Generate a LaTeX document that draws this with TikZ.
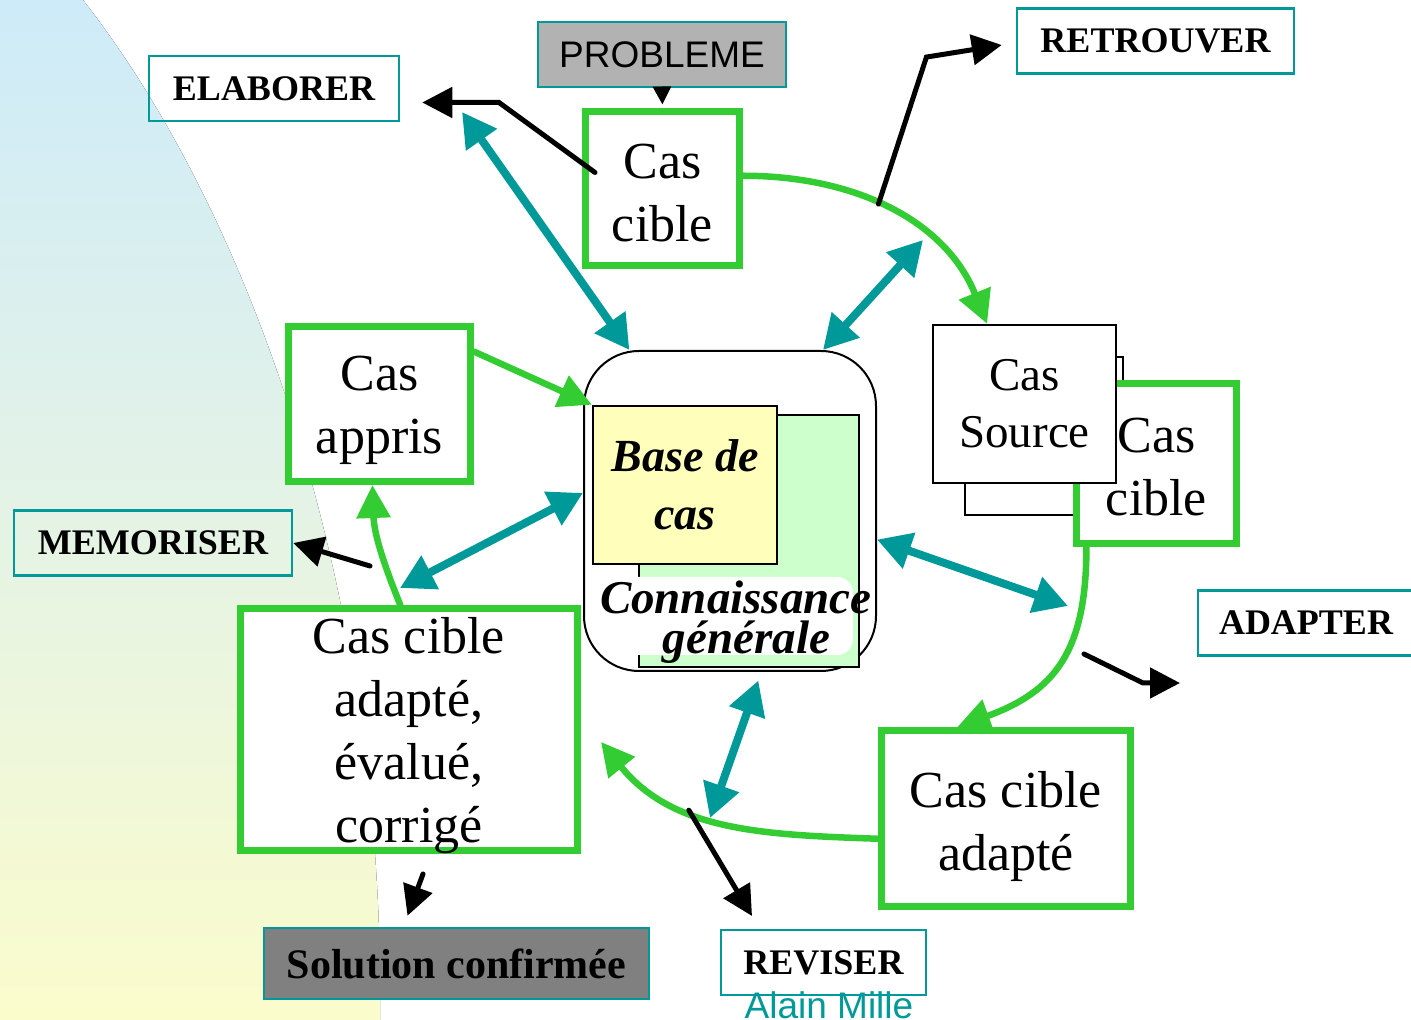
\documentclass[tikz,border=0pt]{standalone}
\usepackage{fontspec}
\setmainfont{Liberation Serif}
\newfontfamily\arialfont{Liberation Sans}
\usepackage{tikz}
\usetikzlibrary{arrows.meta}

\definecolor{tealline}{RGB}{0,153,153}
\definecolor{greenline}{RGB}{51,204,51}
\definecolor{probgray}{RGB}{178,178,178}
\definecolor{solgray}{RGB}{128,128,128}
\definecolor{baseyellow}{RGB}{255,255,187}
\definecolor{knowgreen}{RGB}{204,255,204}
\definecolor{bgtop}{RGB}{206,235,249}
\definecolor{bgmid}{RGB}{228,243,230}
\definecolor{bgbot}{RGB}{251,252,204}

\newcommand{\casfont}{\fontsize{52}{63}\selectfont}
\newcommand{\labfont}{\bfseries\fontsize{36}{40}\selectfont}

\begin{document}
\begin{tikzpicture}[x=1pt,y=1pt,
  casbox/.style={draw=greenline,line width=7pt,fill=white,inner sep=0pt},
  castext/.style={inner sep=0pt,align=center,font=\casfont},
  labelbox/.style={draw=tealline,line width=2.5pt,inner sep=0pt,minimum height=65pt,font=\labfont},
  tealarrow/.style={draw=tealline,line width=8pt,{Triangle[length=34pt,width=36pt]}-{Triangle[length=34pt,width=36pt]}},
  greenarrow/.style={draw=greenline,line width=6.5pt,line cap=round,-{Triangle[length=33pt,width=33pt]}},
  blackarrow/.style={draw=black,line width=5pt,line cap=round,-{Triangle[length=30pt,width=30pt]}}]
\useasboundingbox (0,0) rectangle (1411,1020);
% objects at depth 90:
\fill[top color=bgtop,bottom color=bgbot,middle color=bgmid] (0,0) -- (0,1020) -- (83,1020) .. controls (255,800) and (385,420) .. (380,0) -- cycle;
% objects at depth 50:
\node[draw,line width=2pt,rounded corners=55pt,minimum width=292pt,minimum height=320pt] (base) at (730,509) {};
\node[draw,line width=2.5pt,fill=knowgreen,minimum width=220pt,minimum height=252pt] (knowledge) at (749,479) {};
\node[fill=white,rounded corners=16pt,minimum width=253pt,minimum height=78pt] (knowBack) at (726.5,404) {};
\node[text width=253pt,inner sep=0pt,align=center,font=\bfseries\itshape\fontsize{47}{40}\selectfont] (knowText) at (726.5,398) {Connaissance\\\hspace*{40pt}générale};
\node[draw,line width=2.5pt,fill=baseyellow,minimum width=184pt,minimum height=158pt,align=center,font=\bfseries\itshape\fontsize{46}{58}\selectfont] (caseBase) at (685,535) {Base de\\cas};
\node[casbox,minimum width=154pt,minimum height=154pt] (casCible) at (662.5,831.5) {};
\node[castext] (casCibleText) at ([yshift=-5pt]casCible.center) {Cas\\cible};
\node[casbox,minimum width=182pt,minimum height=155pt] (casAppris) at (379.5,616) {};
\node[castext] (casApprisText) at ([yshift=-6pt]casAppris.center) {Cas\\appris};
\node[casbox,minimum width=337pt,minimum height=242pt] (casEval) at (409,290.5) {};
\node[castext] (casEvalText) at ([yshift=-6pt]casEval.center) {Cas cible\\adapté,\\évalué,\\corrigé};
\node[casbox,minimum width=249pt,minimum height=176pt] (casAdapte) at (1006,201.5) {};
\node[castext] (casAdapteText) at ([yshift=-8pt]casAdapte.center) {Cas cible\\adapté};
\node[draw,line width=2.5pt,fill=white,minimum width=158pt,minimum height=158pt] (backBox) at (1044,584) {};
\node[casbox,minimum width=160pt,minimum height=160pt] (casCibleR) at (1156.5,556.5) {};
\node[castext] (casCibleRText) at ([yshift=-4pt]casCibleR.center) {Cas\\cible};
\node[draw,line width=2.5pt,fill=white,inner sep=0pt,minimum width=183pt,minimum height=158pt,align=center,font=\fontsize{47}{57}\selectfont] (casSource) at (1024.5,616) {Cas\\Source};
% objects at depth 40:
\node[draw=tealline,line width=2.5pt,fill=probgray,inner sep=0pt,minimum width=248pt,minimum height=65pt,font=\arialfont\fontsize{37}{40}\selectfont] (problem) at (662,965.5) {PROBLEME};
\node[labelbox,minimum width=250pt] (elaborer) at (274,931.5) {ELABORER};
\node[labelbox,minimum width=277pt] (retrouver) at (1155.5,979) {RETROUVER};
\node[labelbox,minimum width=278pt] (memoriser) at (153,477) {MEMORISER};
\node[labelbox,minimum width=216pt] (adapter) at (1306,397) {ADAPTER};
\node[labelbox,minimum width=205pt] (reviser) at (823.5,57.5) {REVISER};
\node[labelbox,fill=solgray,minimum width=385pt,minimum height=71pt,font=\bfseries\fontsize{42}{44}\selectfont] (solution) at (456.5,56.5) {Solution confirmée};
\node[anchor=base,text=tealline,font=\arialfont\fontsize{37}{40}\selectfont] (author) at (829,1.5) {Alain Mille};
% objects at depth 30:
\coordinate (elabEnd) at (462,908);
\coordinate (retEnd) at (923,780);
\coordinate (evalEnd) at (400,432);
\coordinate (adaptEnd) at (1068,414);
\coordinate (revEnd) at (710,202);
\draw[tealarrow] (elabEnd) -- (base.122.5);
\draw[tealarrow] (retEnd) -- (base.60);
\draw[tealarrow] (evalEnd) -- (base.173);
\draw[tealarrow] (base.-11) -- (adaptEnd);
\draw[tealarrow,shorten >=9pt] (revEnd) -- (base.-79);
% objects at depth 20:
\coordinate (evalIn) at (601,278);
\draw[greenarrow] (casCible.9) to[out=0,in=112] coordinate[pos=0.45] (retFrom) (casSource.115);
\draw[greenarrow] (casAppris.29) -- (caseBase.north west);
\draw[greenarrow] (casEval.94) to[out=112,in=-88] (casAppris.-95);
\draw[greenarrow] (casCibleR.-130) to[out=-90,in=20,looseness=1.2] (casAdapte.118);
\draw[greenarrow] (casAdapte.189) to[out=178,in=-51] coordinate[pos=0.63] (revFrom) (evalIn);
% objects at depth 10:
\coordinate (memFrom) at (370,454);
\coordinate (adaptFrom) at (1084,366);
\coordinate (adaptTo) at (1180,337);
\coordinate (revTo) at (752,104);
\draw[blackarrow] ([shift={(13pt,16pt)}]casCible.west) -- ++(-96,70) -- ([shift={(22pt,-14pt)}]elaborer.east);
\draw[blackarrow] (retFrom) -- ++(48,147) -- ([shift={(-14pt,-4pt)}]retrouver.west);
\draw[blackarrow] (memFrom) -- (memoriser.east);
\draw[blackarrow] (adaptFrom) -- ++(59,-29) -- (adaptTo);
\draw[blackarrow] (revFrom) -- (revTo);
\draw[blackarrow] ([shift={(14pt,-20pt)}]casEval.south) -- ([shift={(-49pt,11pt)}]solution.north);
\draw[line width=3pt,shorten >=3.5pt,-{Triangle[length=18pt,width=18pt]}] (problem.south) -- (casCible.north);
\end{tikzpicture}
\end{document}
